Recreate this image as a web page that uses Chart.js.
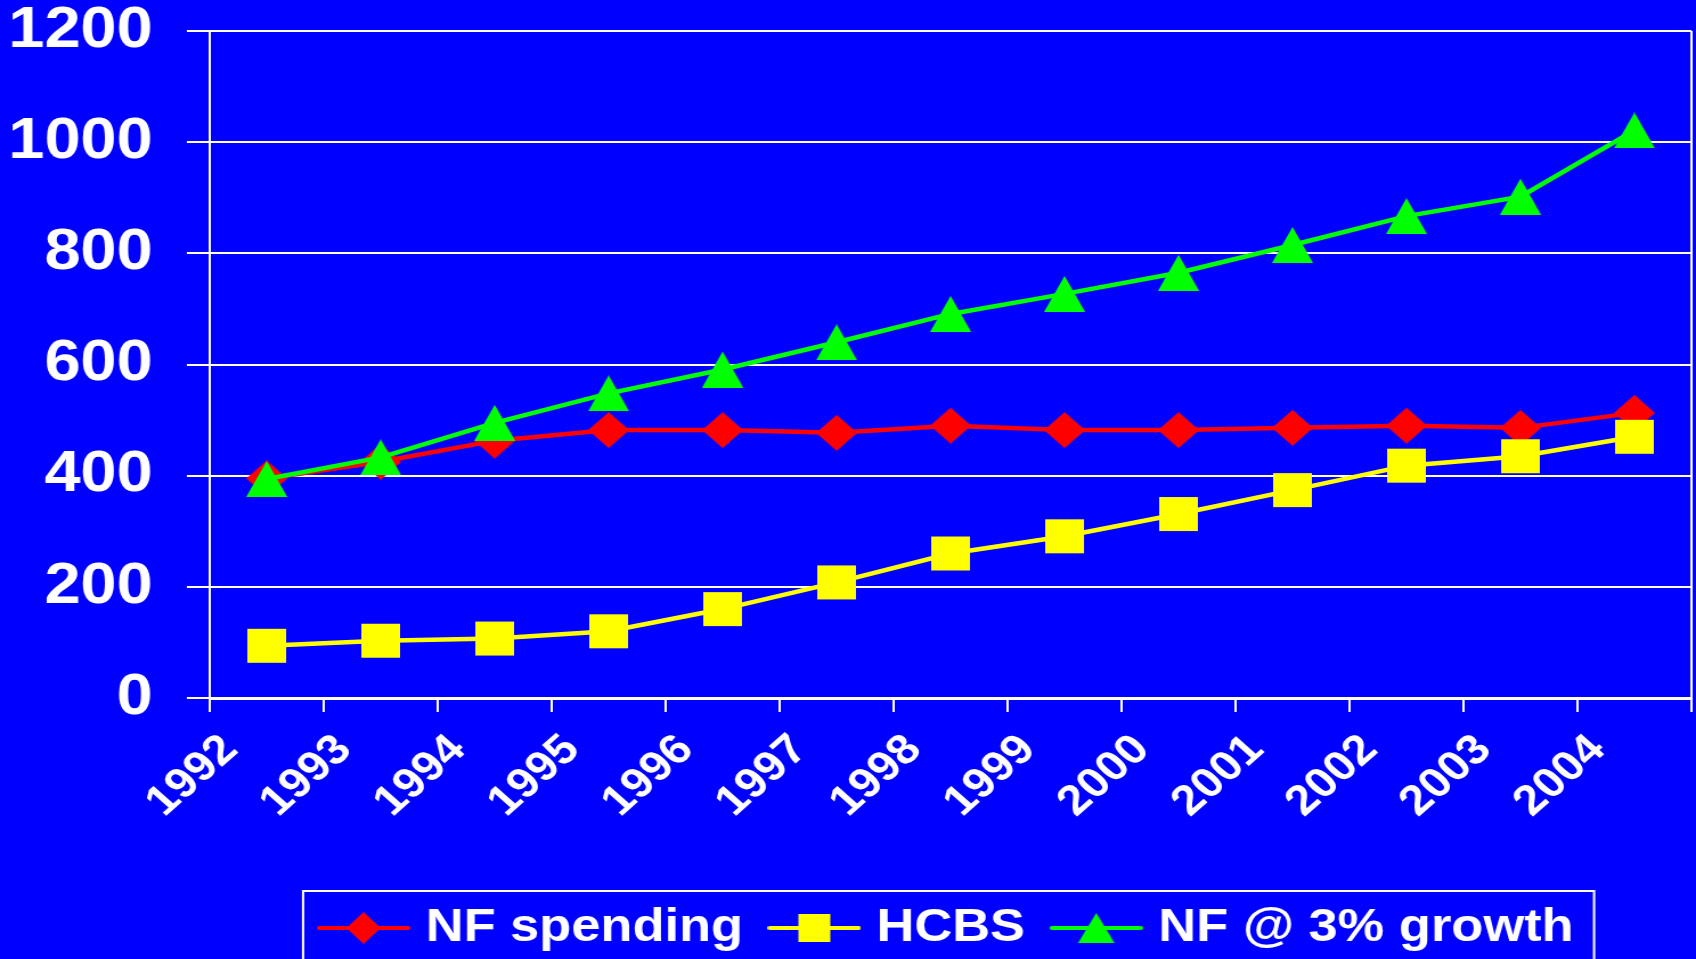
<!DOCTYPE html>
<html>
<head>
<meta charset="utf-8">
<title>NF spending vs HCBS</title>
<script src="https://cdn.jsdelivr.net/npm/chart.js@4.4.0/dist/chart.umd.min.js"></script>
<style>
  html, body { margin: 0; padding: 0; background: #0000ff; overflow: hidden; }
  /* the original slide is stretched sideways, so the chart is drawn narrow and widened */
  #chart { position: absolute; left: 0; top: 0; transform: scaleX(1.13978); transform-origin: 0 0; }
</style>
</head>
<body>
<canvas id="chart" width="1488" height="959"></canvas>
<script>
// values
var years = ["1992", "1993", "1994", "1995", "1996", "1997", "1998", "1999", "2000", "2001", "2002", "2003", "2004"];
var nfSpending = [395, 425, 463, 482, 482, 477, 490, 482, 482, 486, 490, 486, 513];
var hcbs = [94, 103, 107, 120, 160, 208, 260, 291, 331, 374, 418, 435, 470];
var nfGrowth = [394, 433, 495, 548, 591, 640, 691, 727, 765, 815, 867, 902, 1021];
var seriesNames = ["NF spending", "HCBS", "NF @ 3% growth"];
var yTicks = [0, 200, 400, 600, 800, 1000, 1200];

var RED = "#ff0000", YELLOW = "#ffff00", GREEN = "#00ff00", WHITE = "#ffffff";

// Excel style markers (centered in their box), optional line through for the legend
function marker(shape, color, w, h, lineLen) {
  var W = lineLen || w, H = 36;
  var c = document.createElement("canvas");
  c.width = W; c.height = H;
  var g = c.getContext("2d");
  var cx = W / 2, cy = H / 2;
  if (lineLen) {
    g.strokeStyle = color; g.lineWidth = 4; g.lineCap = "round";
    g.beginPath(); g.moveTo(2, cy); g.lineTo(W - 2, cy); g.stroke();
  }
  g.fillStyle = color;
  g.beginPath();
  if (shape === "diamond") {
    g.moveTo(cx, cy - h / 2); g.lineTo(cx + w / 2, cy); g.lineTo(cx, cy + h / 2); g.lineTo(cx - w / 2, cy);
  } else if (shape === "square") {
    g.rect(cx - w / 2, cy - h / 2, w, h);
  } else {
    g.moveTo(cx, cy - h / 2); g.lineTo(cx + w / 2, cy + h / 2); g.lineTo(cx - w / 2, cy + h / 2);
  }
  g.closePath();
  g.fill();
  return c;
}

var pointImgs = [marker("diamond", RED, 36, 36), marker("square", YELLOW, 34, 34), marker("triangle", GREEN, 36, 36)];
var legendImgs = [marker("diamond", RED, 30, 32, 82), marker("square", YELLOW, 28, 28, 82), marker("triangle", GREEN, 32, 30, 82)];
var colors = [RED, YELLOW, GREEN];

// right edge of the plot and the box round the legend
var framePlugin = {
  id: "frame",
  afterDraw: function (chart) {
    var ctx = chart.ctx, a = chart.chartArea;
    ctx.save();
    ctx.strokeStyle = WHITE;
    ctx.lineWidth = 2;
    ctx.beginPath();
    ctx.moveTo(a.right, a.top);
    ctx.lineTo(a.right, a.bottom);
    ctx.stroke();
    var hb = chart.legend.legendHitBoxes;
    if (hb && hb.length) {
      var last = hb[hb.length - 1];
      var left = hb[0].left - 21.5;
      var right = last.left + last.width + 18;
      var top = hb[0].top - 14;
      ctx.strokeRect(left, top, right - left, chart.height + 20 - top);
    }
    ctx.restore();
  }
};

var fontFamily = "'Liberation Sans', Arial, sans-serif";

new Chart(document.getElementById("chart"), {
  type: "line",
  data: {
    labels: years,
    datasets: [
      { label: seriesNames[0], data: nfSpending, order: 3 },
      { label: seriesNames[1], data: hcbs, order: 2 },
      { label: seriesNames[2], data: nfGrowth, order: 1 }
    ].map(function (d, i) {
      d.borderColor = colors[i];
      d.backgroundColor = colors[i];
      d.borderWidth = 4.5;
      d.pointStyle = pointImgs[i];
      d.pointRadius = 18;
      d.tension = 0;
      return d;
    })
  },
  options: {
    responsive: false,
    animation: false,
    devicePixelRatio: 1,
    layout: { autoPadding: false, padding: { left: 0, right: 4, top: 31, bottom: 0 } },
    plugins: {
      tooltip: { enabled: false },
      legend: {
        position: "bottom",
        fullSize: false,
        maxHeight: 85,
        labels: {
          usePointStyle: true,
          pointStyleWidth: 63,
          padding: 31,
          color: WHITE,
          font: { family: fontFamily, size: 46, weight: "bold" },
          generateLabels: function (chart) {
            return chart.data.datasets.map(function (d, i) {
              return {
                text: d.label, pointStyle: legendImgs[i], fillStyle: colors[i],
                strokeStyle: colors[i], lineWidth: 0, hidden: false, datasetIndex: i, fontColor: WHITE
              };
            });
          }
        }
      }
    },
    scales: {
      x: {
        offset: true,
        grid: { display: true, offset: true, drawOnChartArea: false, drawTicks: true, tickLength: 14, color: WHITE, lineWidth: 2 },
        border: { display: true, color: WHITE, width: 3 },
        ticks: {
          autoSkip: false, minRotation: 45, maxRotation: 45, labelOffset: -32, padding: 31,
          color: WHITE, font: { family: fontFamily, size: 42, weight: "bold", lineHeight: 0.01 }
        },
        afterFit: function (s) { s.height = 176; }
      },
      y: {
        min: yTicks[0],
        max: yTicks[yTicks.length - 1],
        grid: { color: WHITE, lineWidth: 2, tickLength: 20, drawTicks: true },
        border: { display: true, color: WHITE, width: 2 },
        ticks: {
          stepSize: yTicks[1] - yTicks[0], padding: 30, color: WHITE,
          font: { family: fontFamily, size: 57, weight: "bold", lineHeight: 0.01 },
          callback: function (v) { return String(v); }
        },
        afterFit: function (s) { s.width = 184; }
      }
    }
  },
  plugins: [framePlugin]
});
</script>
</body>
</html>
